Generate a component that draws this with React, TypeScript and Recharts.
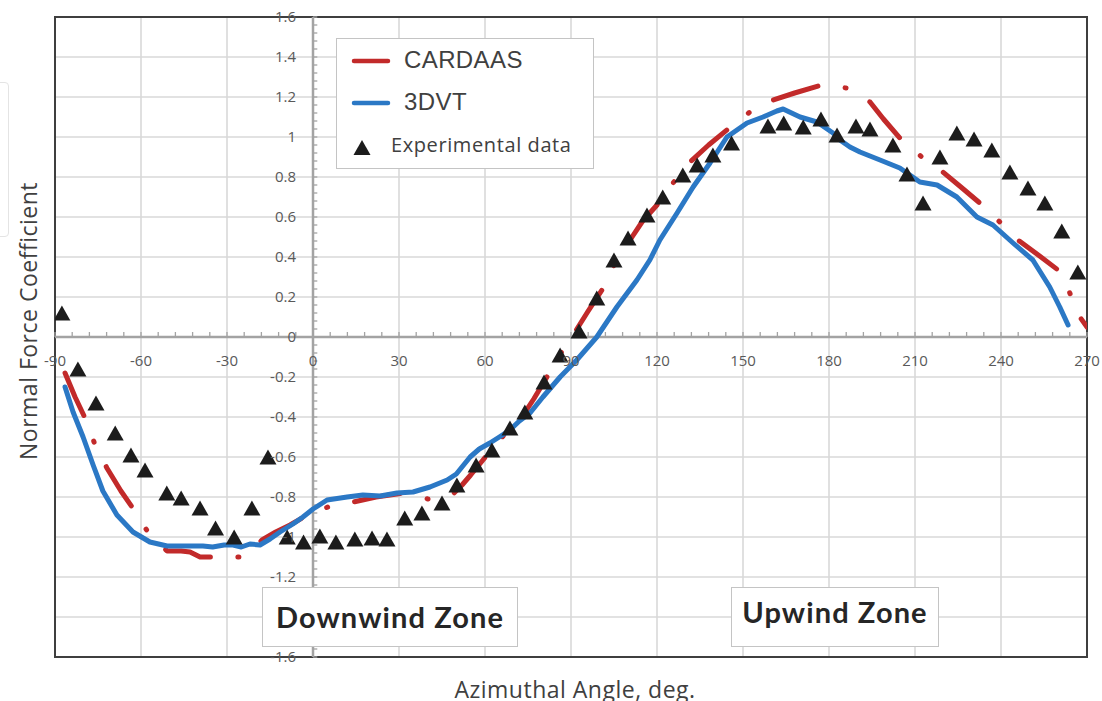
import React from 'react';
import {
  ComposedChart,
  Line,
  Scatter,
  XAxis,
  YAxis,
  CartesianGrid,
  ReferenceLine,
  ReferenceDot,
  ReferenceArea,
  Legend,
} from 'recharts';

// azimuthal angle (deg) vs normal force coefficient
const X_TICKS = [-90, -60, -30, 0, 30, 60, 90, 120, 150, 180, 210, 240, 270];
const Y_TICKS = [1.6, 1.4, 1.2, 1, 0.8, 0.6, 0.4, 0.2, 0, -0.2, -0.4, -0.6, -0.8, -1, -1.2, -1.4, -1.6];
// -1.4 sits under the "Downwind Zone" box, so it gets no label
const Y_LABELS = Y_TICKS.filter((v) => v !== -1.4);

const cardaas: [number, number][] = [
  [-86.5, -0.18], [-83, -0.3], [-79.2, -0.415], [-76, -0.54], [-71.9, -0.655], [-67, -0.77],
  [-62.4, -0.865], [-57.6, -0.975], [-50.9, -1.07], [-46, -1.07], [-42.9, -1.075], [-39.4, -1.1],
  [-34.9, -1.1], [-30, -1.1], [-25.8, -1.1], [-21, -1.06], [-17.8, -1.015], [-13, -0.975],
  [-8, -0.94], [-2, -0.89], [5.2, -0.85], [14, -0.825], [22, -0.8], [31.4, -0.78], [40.1, -0.81],
  [44, -0.8], [48.5, -0.79], [52, -0.74], [55, -0.69], [59.3, -0.615], [64, -0.53], [68, -0.47],
  [72.2, -0.415], [77, -0.31], [81.6, -0.2], [86, -0.09], [91.4, 0.025], [96, 0.13], [100.8, 0.235],
  [104.6, 0.35], [111.3, 0.5], [115, 0.58], [120, 0.66], [125.6, 0.77], [131.5, 0.875], [138, 0.96],
  [144.8, 1.04], [152.4, 1.125], [160.5, 1.185], [168, 1.22], [177.5, 1.26], [186, 1.245],
  [194.3, 1.175], [199, 1.09], [204.7, 0.995], [212.4, 0.9], [219.7, 0.825], [226, 0.75],
  [232.6, 0.67], [239.6, 0.575], [245.9, 0.485], [253, 0.41], [259.9, 0.335], [264, 0.22],
  [267.5, 0.1], [270, 0.05],
];

const dvt3: [number, number][] = [
  [-86.5, -0.25], [-83.7, -0.375], [-80.2, -0.5], [-76.7, -0.64], [-73.3, -0.77], [-68.4, -0.89],
  [-62.8, -0.975], [-56.9, -1.025], [-50.9, -1.045], [-44, -1.045], [-38.4, -1.045], [-35, -1.05],
  [-31, -1.04], [-27.9, -1.04], [-25, -1.05], [-22, -1.035], [-18.5, -1.04], [-15, -1.01],
  [-11.5, -0.975], [-7, -0.935], [-3.5, -0.9], [0, -0.86], [4.9, -0.815], [11.9, -0.8],
  [17.4, -0.79], [23.4, -0.795], [29.3, -0.78], [34.9, -0.775], [40.8, -0.75], [46.8, -0.715],
  [50, -0.685], [54.8, -0.6], [58, -0.56], [61.7, -0.53], [65, -0.5], [68.7, -0.465], [72, -0.42],
  [75.7, -0.38], [80.2, -0.3], [86.2, -0.2], [92, -0.115], [99, 0], [106, 0.15], [113, 0.285],
  [117.5, 0.385], [121, 0.485], [127, 0.62], [132.6, 0.75], [138.5, 0.87], [144.4, 1.0],
  [151.4, 1.07], [157, 1.1], [161.8, 1.13], [164, 1.14], [169.9, 1.1], [175.8, 1.075],
  [181.4, 1.02], [183.8, 0.985], [187.3, 0.95], [190.8, 0.925], [197.8, 0.885], [204.7, 0.845],
  [211.7, 0.775], [217.7, 0.76], [224.6, 0.7], [231.6, 0.6], [237.2, 0.56], [244.2, 0.47],
  [251.1, 0.385], [257, 0.25], [260.5, 0.15], [263.4, 0.06],
];

const experimental: [number, number][] = [
  [-87.6, 0.12], [-82, -0.16], [-75.7, -0.33], [-69, -0.48], [-63.5, -0.59], [-58.6, -0.665],
  [-51, -0.78], [-46, -0.805], [-39.4, -0.855], [-34, -0.955], [-27.5, -1.0], [-21.3, -0.855],
  [-15.7, -0.6], [-9, -1.0], [-3.3, -1.025], [2.4, -0.995], [8, -1.025], [14.6, -1.01],
  [20.6, -1.005], [25.8, -1.01], [32, -0.905], [38, -0.88], [45, -0.83], [50.2, -0.74],
  [56.9, -0.64], [62.4, -0.565], [68.7, -0.455], [73.9, -0.375], [80.6, -0.225], [86.2, -0.09],
  [92.8, 0.03], [99, 0.195], [105, 0.385], [109.9, 0.495], [116.5, 0.61], [122, 0.7], [129, 0.81],
  [134, 0.86], [139.5, 0.91], [146, 0.97], [158.7, 1.055], [164.2, 1.07], [171, 1.05],
  [177.2, 1.09], [182.8, 1.01], [189.4, 1.055], [194.3, 1.04], [202.3, 0.96], [207.2, 0.815],
  [212.8, 0.67], [218.7, 0.9], [224.6, 1.02], [230.6, 0.99], [236.8, 0.935], [243.1, 0.825],
  [249.4, 0.745], [255.3, 0.67], [261.2, 0.53], [266.8, 0.325],
];

const RED = '#c22a2a';
const BLUE = '#2b78c5';
const TICK_FONT = { fontSize: 15, fill: '#595959', fontFamily: 'Open Sans' };

// minor tick marks along the two axes crossing at the origin
const X_MINOR = Array.from({ length: 61 }, (_, i) => -90 + i * 6);
const Y_MINOR = Array.from({ length: 81 }, (_, i) => Math.round((-1.6 + i * 0.04) * 100) / 100);

const toPoints = (rows: [number, number][]) => rows.map(([x, y]) => ({ x, y }));

const Triangle = (props: any) => {
  const { cx, cy } = props;
  return (
    <polygon
      points={`${cx},${cy - 7.5} ${cx + 8.5},${cy + 7.5} ${cx - 8.5},${cy + 7.5}`}
      fill="#1c1c1c"
    />
  );
};

const LegendBox = () => (
  <div
    style={{
      position: 'relative',
      width: 256,
      height: 129,
      border: '1px solid #c4c4c4',
      background: '#fff',
      color: '#404040',
    }}
  >
    <svg width={256} height={129} style={{ position: 'absolute', left: 0, top: 0 }}>
      <line x1={17} y1={22} x2={51} y2={22} stroke={RED} strokeWidth={4.5} strokeLinecap="round" />
      <line x1={17} y1={64} x2={51} y2={64} stroke={BLUE} strokeWidth={4.5} strokeLinecap="round" />
      <polygon points="25,101 33.5,116 16.5,116" fill="#1c1c1c" />
    </svg>
    <span style={{ position: 'absolute', left: 67, top: 7, fontFamily: 'Liberation Sans', fontSize: 24, letterSpacing: 0.4 }}>
      CARDAAS
    </span>
    <span style={{ position: 'absolute', left: 67, top: 49, fontFamily: 'Liberation Sans', fontSize: 24, letterSpacing: 0.4 }}>
      3DVT
    </span>
    <span style={{ position: 'absolute', left: 54, top: 92, fontFamily: 'Open Sans', fontSize: 20, letterSpacing: 0.6 }}>
      Experimental data
    </span>
  </div>
);

const zoneBox = (text: string, left: number, width: number, padTop: number) => (
  <div
    style={{
      position: 'absolute',
      left,
      top: 587,
      width,
      height: 60,
      boxSizing: 'border-box',
      border: '1px solid #c4c4c4',
      background: '#fff',
      textAlign: 'center',
      paddingTop: padTop,
      fontFamily: 'Lato',
      fontWeight: 700,
      fontSize: 29,
      letterSpacing: 1.1,
      color: '#262626',
      lineHeight: '34px',
      whiteSpace: 'nowrap',
    }}
  >
    {text}
  </div>
);

export default function App() {
  return (
    <div style={{ position: 'absolute', left: 0, top: 0, width: 1102, height: 701, background: '#fff', overflow: 'hidden' }}>
      <div
        style={{
          position: 'absolute',
          left: -12,
          top: 82,
          width: 19,
          height: 153,
          border: '1px solid #e4e4e4',
          borderRadius: 4,
        }}
      />
      <ComposedChart width={1102} height={701} margin={{ top: 17, right: 15, bottom: 44, left: 55 }}>
        <CartesianGrid stroke="#d9d9d9" strokeWidth={1.6} />
        <XAxis type="number" dataKey="x" domain={[-90, 270]} ticks={X_TICKS} hide allowDataOverflow />
        <YAxis type="number" dataKey="y" domain={[-1.6, 1.6]} ticks={Y_TICKS} hide allowDataOverflow />

        <ReferenceLine y={0} stroke="#a3a3a3" strokeWidth={2.5} />
        <ReferenceLine x={0} stroke="#a3a3a3" strokeWidth={2.5} />
        {X_MINOR.map((t) => (
          <ReferenceLine
            key={`xm${t}`}
            segment={[{ x: t, y: 0 }, { x: t, y: 0.025 }]}
            stroke="#a3a3a3"
            strokeWidth={1.3}
          />
        ))}
        {Y_MINOR.map((v) => (
          <ReferenceLine
            key={`ym${v}`}
            segment={[{ x: 0, y: v }, { x: 1.5, y: v }]}
            stroke="#a3a3a3"
            strokeWidth={1.3}
          />
        ))}
        {X_TICKS.map((t) => (
          <ReferenceDot
            key={`xl${t}`}
            x={t}
            y={0}
            r={0}
            stroke="none"
            fill="none"
            label={{ value: `${t}`, position: 'bottom', offset: 18, ...TICK_FONT }}
          />
        ))}
        {Y_LABELS.map((v) => (
          <ReferenceDot
            key={`yl${v}`}
            x={0}
            y={v}
            r={0}
            stroke="none"
            fill="none"
            label={{ value: `${v}`, position: 'left', offset: 17, ...TICK_FONT }}
          />
        ))}

        <Line
          data={toPoints(cardaas)}
          dataKey="y"
          name="CARDAAS"
          type="linear"
          stroke={RED}
          strokeWidth={5}
          strokeLinecap="round"
          strokeLinejoin="round"
          strokeDasharray="46.5 27.5 1 27.5"
          dot={false}
          isAnimationActive={false}
        />
        <Line
          data={toPoints(dvt3)}
          dataKey="y"
          name="3DVT"
          type="linear"
          stroke={BLUE}
          strokeWidth={5}
          strokeLinecap="round"
          strokeLinejoin="round"
          dot={false}
          isAnimationActive={false}
        />
        <Scatter
          data={toPoints(experimental)}
          dataKey="y"
          name="Experimental data"
          shape={Triangle}
          isAnimationActive={false}
        />

        <ReferenceArea x1={-90} x2={270} y1={-1.6} y2={1.6} fill="none" stroke="#3f3f3f" strokeWidth={2} ifOverflow="visible" />

        <Legend
          layout="vertical"
          align="center"
          verticalAlign="middle"
          wrapperStyle={{ left: 336, top: 38, width: 258, height: 131 }}
          content={() => <LegendBox />}
        />
      </ComposedChart>

      {zoneBox('Downwind Zone', 262, 256, 12)}
      {zoneBox('Upwind Zone', 731, 208, 7)}

      <div
        style={{
          position: 'absolute',
          left: 28,
          top: 321,
          transform: 'translate(-50%, -50%) rotate(-90deg)',
          whiteSpace: 'nowrap',
          fontFamily: 'Open Sans',
          fontSize: 23,
          letterSpacing: 0.5,
          color: '#404040',
        }}
      >
        Normal Force Coefficient
      </div>
      <div
        style={{
          position: 'absolute',
          left: 575,
          top: 673,
          transform: 'translateX(-50%)',
          whiteSpace: 'nowrap',
          fontFamily: 'Open Sans',
          fontSize: 23,
          letterSpacing: 0.5,
          color: '#404040',
        }}
      >
        Azimuthal Angle, deg.
      </div>
    </div>
  );
}
